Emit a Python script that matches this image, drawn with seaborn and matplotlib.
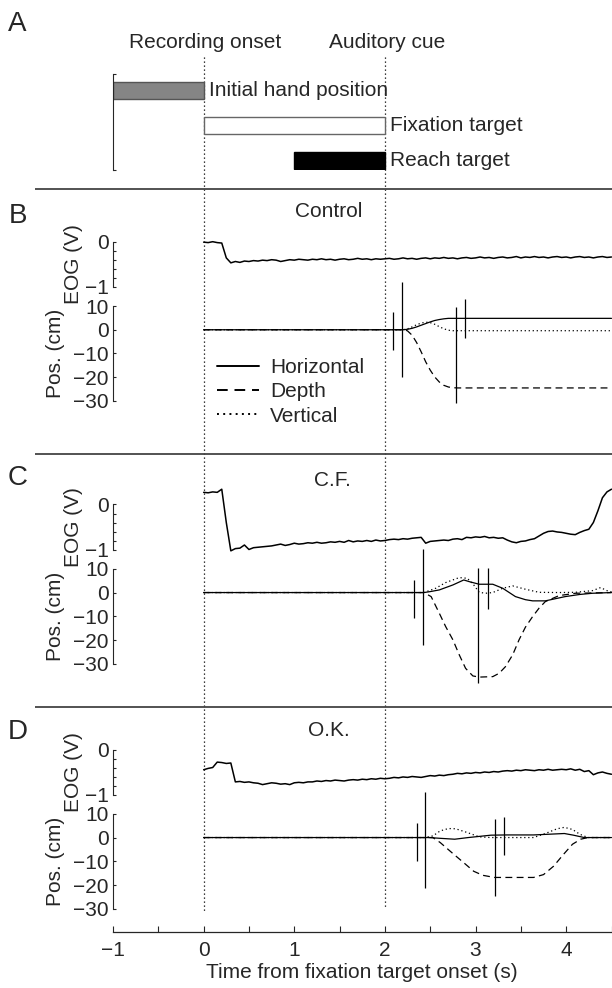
import numpy as np
import pandas as pd
import matplotlib
matplotlib.use("Agg")
import matplotlib.pyplot as plt
import seaborn as sns

# ------------------------------------------------------------------ data
# Panel A: trial events (time in s from fixation target onset)
event_names = ["Initial hand position", "Fixation target", "Reach target"]
event_start = [-1.0, 0.0, 1.0]
event_end = [0.0, 2.0, 2.0]
cue_times = [0.0, 2.0]
cue_names = ["Recording onset", "Auditory cue"]

panel_letters = ["B", "C", "D"]
panel_titles = ["Control", "C.F.", "O.K."]
components = ["Horizontal", "Depth", "Vertical"]

x_ticks = [-1, 0, 1, 2, 3, 4]
x_minor = [-0.5, 0.5, 1.5, 2.5, 3.5, 4.5]
eog_ticks = [-1, 0]
eog_minor = [-0.8, -0.6, -0.4, -0.2]
pos_ticks = [-30, -20, -10, 0, 10]

# EOG traces (V), sampled every 50 ms
eog_t = [0.00, 0.05, 0.10, 0.15, 0.20, 0.25, 0.30, 0.35, 0.40, 0.45,
         0.50, 0.55, 0.60, 0.65, 0.70, 0.75, 0.80, 0.85, 0.90, 0.95,
         1.00, 1.05, 1.10, 1.15, 1.20, 1.25, 1.30, 1.35, 1.40, 1.45,
         1.50, 1.55, 1.60, 1.65, 1.70, 1.75, 1.80, 1.85, 1.90, 1.95,
         2.00, 2.05, 2.10, 2.15, 2.20, 2.25, 2.30, 2.35, 2.40, 2.45,
         2.50, 2.55, 2.60, 2.65, 2.70, 2.75, 2.80, 2.85, 2.90, 2.95,
         3.00, 3.05, 3.10, 3.15, 3.20, 3.25, 3.30, 3.35, 3.40, 3.45,
         3.50, 3.55, 3.60, 3.65, 3.70, 3.75, 3.80, 3.85, 3.90, 3.95,
         4.00, 4.05, 4.10, 4.15, 4.20, 4.25, 4.30, 4.35, 4.40, 4.45,
         4.50]
eog_b = [-0.01, -0.02, 0.00, -0.02, -0.03, -0.36, -0.47, -0.44, -0.46, -0.43,
         -0.44, -0.42, -0.43, -0.41, -0.42, -0.40, -0.41, -0.44, -0.42, -0.40,
         -0.41, -0.39, -0.40, -0.41, -0.39, -0.40, -0.38, -0.40, -0.39, -0.41,
         -0.39, -0.38, -0.40, -0.39, -0.37, -0.39, -0.38, -0.40, -0.38, -0.39,
         -0.38, -0.37, -0.39, -0.38, -0.36, -0.38, -0.37, -0.39, -0.37, -0.36,
         -0.38, -0.36, -0.37, -0.35, -0.37, -0.36, -0.38, -0.36, -0.35, -0.37,
         -0.36, -0.34, -0.36, -0.35, -0.37, -0.35, -0.34, -0.36, -0.35, -0.33,
         -0.36, -0.34, -0.35, -0.33, -0.35, -0.34, -0.36, -0.34, -0.33, -0.35,
         -0.34, -0.36, -0.34, -0.33, -0.35, -0.34, -0.36, -0.34, -0.33, -0.35,
         -0.34]
eog_c = [0.27, 0.26, 0.28, 0.27, 0.34, -0.40, -1.03, -0.98, -0.97, -0.90,
         -1.00, -0.96, -0.95, -0.94, -0.93, -0.92, -0.90, -0.88, -0.91, -0.89,
         -0.86, -0.88, -0.87, -0.85, -0.86, -0.84, -0.86, -0.85, -0.83, -0.84,
         -0.82, -0.84, -0.80, -0.83, -0.81, -0.82, -0.80, -0.82, -0.79, -0.81,
         -0.80, -0.78, -0.77, -0.78, -0.76, -0.77, -0.75, -0.74, -0.73, -0.86,
         -0.82, -0.81, -0.80, -0.79, -0.80, -0.77, -0.76, -0.78, -0.73, -0.74,
         -0.72, -0.73, -0.71, -0.74, -0.73, -0.75, -0.74, -0.79, -0.83, -0.85,
         -0.82, -0.81, -0.78, -0.76, -0.70, -0.64, -0.60, -0.59, -0.61, -0.62,
         -0.64, -0.66, -0.67, -0.62, -0.58, -0.55, -0.40, -0.14, 0.15, 0.28,
         0.34]
eog_d = [-0.45, -0.42, -0.40, -0.28, -0.29, -0.31, -0.30, -0.72, -0.71, -0.73,
         -0.72, -0.74, -0.75, -0.78, -0.76, -0.74, -0.75, -0.77, -0.76, -0.78,
         -0.74, -0.73, -0.74, -0.72, -0.72, -0.70, -0.71, -0.69, -0.70, -0.68,
         -0.69, -0.70, -0.68, -0.67, -0.68, -0.66, -0.67, -0.65, -0.66, -0.64,
         -0.65, -0.64, -0.62, -0.63, -0.61, -0.62, -0.60, -0.61, -0.62, -0.60,
         -0.58, -0.59, -0.57, -0.58, -0.56, -0.55, -0.53, -0.54, -0.52, -0.53,
         -0.51, -0.52, -0.50, -0.51, -0.49, -0.50, -0.48, -0.47, -0.48, -0.46,
         -0.47, -0.45, -0.46, -0.47, -0.45, -0.46, -0.44, -0.46, -0.45, -0.44,
         -0.45, -0.43, -0.46, -0.44, -0.49, -0.47, -0.56, -0.52, -0.50, -0.53,
         -0.55]

# Hand position (cm) -- Control
hor_b_t = [0.0, 2.20, 2.25, 2.30, 2.35, 2.40, 2.45, 2.50, 2.55, 2.60, 2.65, 2.70, 2.75, 4.50]
hor_b = [0.0, 0.0, 0.2, 0.6, 1.2, 1.9, 2.6, 3.3, 3.9, 4.3, 4.6, 4.8, 4.8, 4.8]
dep_b_t = [0.0, 2.22, 2.25, 2.30, 2.35, 2.40, 2.45, 2.50, 2.55, 2.60, 2.65, 2.70, 2.75, 2.80, 4.50]
dep_b = [0.0, 0.0, -0.5, -2.3, -5.4, -9.3, -13.5, -17.0, -19.9, -22.0, -23.4, -24.1, -24.4, -24.5, -24.5]
ver_b_t = [0.0, 2.20, 2.25, 2.30, 2.35, 2.40, 2.45, 2.50, 2.55, 2.60, 2.65, 2.70, 2.75, 4.50]
ver_b = [0.0, 0.0, 0.4, 1.2, 2.1, 2.8, 3.2, 3.0, 2.3, 1.3, 0.4, -0.2, -0.4, -0.4]
mark_b_t = [2.085, 2.19, 2.78, 2.885]
mark_b_top = [7.4, 20.0, 9.4, 12.8]
mark_b_bot = [-8.4, -19.7, -30.7, -3.4]

# Hand position (cm) -- C.F.
hor_c_t = [0.0, 2.43, 2.50, 2.60, 2.75, 2.87, 2.93, 3.04, 3.19, 3.30, 3.44, 3.55, 3.63, 3.77, 3.99, 4.15, 4.29, 4.50]
hor_c = [0.0, 0.0, 0.4, 1.1, 3.2, 5.3, 4.6, 3.5, 3.5, 1.8, -1.7, -3.0, -3.5, -3.5, -1.7, -0.8, -0.3, 0.0]
dep_c_t = [0.0, 2.43, 2.51, 2.60, 2.67, 2.75, 2.82, 2.89, 2.97, 3.04, 3.19, 3.26, 3.33, 3.41, 3.48,
           3.55, 3.63, 3.70, 3.77, 3.92, 4.10, 4.50]
dep_c = [0.0, 0.0, -1.7, -8.7, -14.3, -19.9, -26.2, -31.9, -35.1, -35.6, -35.4, -34.0, -31.2, -26.2, -19.9,
         -14.6, -10.1, -6.6, -3.8, -1.3, -0.3, 0.0]
ver_c_t = [0.0, 2.43, 2.56, 2.67, 2.82, 2.91, 2.98, 3.04, 3.11, 3.19, 3.30, 3.41, 3.55, 3.70, 3.92,
           4.10, 4.29, 4.38, 4.45, 4.50]
ver_c = [0.0, 0.0, 1.8, 4.2, 6.3, 6.0, 3.2, 0.1, -0.3, 0.0, 1.8, 2.8, 1.4, 0.1, 0.0,
         0.1, 0.8, 2.1, 0.8, 0.3]
mark_c_t = [2.32, 2.42, 3.03, 3.135]
mark_c_top = [5.3, 18.3, 10.3, 10.3]
mark_c_bot = [-10.8, -22.0, -38.2, -7.0]

# Hand position (cm) -- O.K.
hor_d_t = [0.0, 2.49, 2.60, 2.77, 2.92, 3.17, 3.34, 3.64, 3.81, 3.98, 4.08, 4.20, 4.50]
hor_d = [0.0, 0.0, -0.3, -0.7, 0.0, 1.0, 1.1, 1.1, 1.4, 1.7, 1.0, 0.0, 0.0]
dep_d_t = [0.0, 2.53, 2.61, 2.74, 2.87, 2.98, 3.08, 3.21, 3.64, 3.75, 3.86, 3.97, 4.07, 4.16, 4.24, 4.50]
dep_d = [0.0, 0.0, -2.1, -6.4, -10.6, -14.2, -15.9, -16.8, -16.8, -15.6, -12.1, -7.1, -2.8, -0.7, 0.0, 0.0]
ver_d_t = [0.0, 2.44, 2.53, 2.61, 2.70, 2.78, 2.91, 3.04, 3.17, 3.64, 3.77, 3.90, 3.98, 4.07, 4.15, 4.24, 4.50]
ver_d = [0.0, 0.0, 0.7, 2.8, 3.8, 3.7, 2.1, 0.3, 0.0, 0.0, 1.7, 3.7, 4.3, 3.4, 1.4, 0.0, 0.0]
mark_d_t = [2.35, 2.44, 3.21, 3.31]
mark_d_top = [6.0, 19.2, 7.8, 8.8]
mark_d_bot = [-10.0, -21.3, -24.5, -7.4]

# ------------------------------------------------------------------ style
sns.set_theme(style="ticks")
plt.rcParams["font.family"] = ["Liberation Sans", "DejaVu Sans"]
plt.rcParams["axes.unicode_minus"] = True
FS = 15
LETTER_FS = 20

W, H = 612, 988
X0, X1 = 113.0, 611.5
XMIN, XMAX = -1.0, 4.5
EOG_H = 45.0
POS_TOP, POS_BOT = 64.3, 159.3
eog_zero_px = [241.7, 504.5, 749.5]
letter_y = [216, 478, 732]
title_y = [211, 480, 730]
title_x = [1.38, 1.42, 1.38]
sep_y = [189, 454, 706.5]
dotted_end = [911, 907]

dash_map = {"Horizontal": "", "Depth": (5.5, 3.5), "Vertical": (1, 2.2)}
bar_face = ["#858585", "white", "black"]
bar_edge = ["#555555", "#666666", "black"]

fig = plt.figure(figsize=(W / 100, H / 100), dpi=100)


def px_axes(y_top, y_bot, x0=X0, x1=X1):
    ax = fig.add_axes([x0 / W, 1 - y_bot / H, (x1 - x0) / W, (y_bot - y_top) / H])
    ax.patch.set_visible(False)
    return ax


# overlay: x in seconds, y in pixels from top
ax_o = fig.add_axes([0, 0, 1, 1])
ax_o.set_xlim(XMIN - X0 * (XMAX - XMIN) / (X1 - X0), XMIN + (W - X0) * (XMAX - XMIN) / (X1 - X0))
ax_o.set_ylim(H, 0)
ax_o.set_axis_off()
px2t = lambda px: XMIN + (px - X0) * (XMAX - XMIN) / (X1 - X0)
for ct, name, yend in zip(cue_times, cue_names, dotted_end):
    ax_o.plot([ct, ct], [57, yend], color="black", lw=0.9, ls=(0, (1, 2.2)))
    ax_o.text(ct + 0.02, 43, name, ha="center", va="center", fontsize=FS)
for sy in sep_y:
    ax_o.plot([px2t(35), px2t(W)], [sy, sy], color="#444444", lw=1.3, solid_capstyle="butt")

fig.text(17 / W, 1 - 24 / H, "A", ha="center", va="center", fontsize=LETTER_FS)

# ---------------- panel A: event bars
ax_a = px_axes(74, 170)
rows = np.arange(len(event_names))
ax_a.barh(rows, np.array(event_end) - np.array(event_start), left=event_start, height=0.5,
          color=bar_face, edgecolor=bar_edge, linewidth=1.0)
for r, name, e in zip(rows, event_names, event_end):
    ax_a.annotate(name, xy=(e, r), xytext=(4.0, 0), textcoords="offset points",
                  ha="left", va="center", fontsize=FS)
ax_a.set_xlim(XMIN, XMAX)
ax_a.set_ylim(2.271, -0.466)
for s in ["top", "right", "bottom"]:
    ax_a.spines[s].set_visible(False)
ax_a.spines["left"].set_linewidth(0.8)
ax_a.set_xticks([])
ax_a.set_yticks([-0.466, 2.271])
ax_a.set_yticklabels([])
ax_a.tick_params(axis="y", direction="in", length=2.5, width=0.8)

# ---------------- panels B-D
panels = [
    (eog_b, (hor_b_t, hor_b), (dep_b_t, dep_b), (ver_b_t, ver_b), (mark_b_t, mark_b_top, mark_b_bot)),
    (eog_c, (hor_c_t, hor_c), (dep_c_t, dep_c), (ver_c_t, ver_c), (mark_c_t, mark_c_top, mark_c_bot)),
    (eog_d, (hor_d_t, hor_d), (dep_d_t, dep_d), (ver_d_t, ver_d), (mark_d_t, mark_d_top, mark_d_bot)),
]


def style_yaxis(ax):
    for s in ["top", "right", "bottom"]:
        ax.spines[s].set_visible(False)
    ax.spines["left"].set_linewidth(0.8)
    ax.set_xticks([])
    ax.tick_params(axis="y", which="both", direction="in", length=2.2, width=0.8,
                   pad=3, labelsize=FS)


for i, (eog, hor, dep, ver, marks) in enumerate(panels):
    z = eog_zero_px[i]
    # EOG
    ax_e = px_axes(z, z + EOG_H)
    sns.lineplot(x=eog_t, y=eog, color="black", linewidth=1.1, estimator=None, ax=ax_e)
    ax_e.set_xlim(XMIN, XMAX)
    ax_e.set_ylim(-1, 0)
    ax_e.set_yticks(eog_ticks)
    ax_e.set_yticks(eog_minor, minor=True)
    style_yaxis(ax_e)
    ax_e.set_xlabel("")
    ax_e.set_ylabel("EOG (V)", fontsize=FS)
    ax_e.yaxis.set_label_coords((83 - X0) / (X1 - X0), 0.5)
    for ln in ax_e.get_lines():
        ln.set_clip_on(False)

    # Hand position
    ax_p = px_axes(z + POS_TOP, z + POS_BOT)
    frames = []
    for name, (tt, vv) in zip(components, [hor, dep, ver]):
        frames.append(pd.DataFrame({"t": tt, "v": vv, "Component": name}))
    df = pd.concat(frames, ignore_index=True)
    sns.lineplot(data=df, x="t", y="v", style="Component", style_order=components,
                 dashes=dash_map, color="black", linewidth=0.9, estimator=None,
                 ax=ax_p, legend=(i == 0))
    mt, mtop, mbot = marks
    ax_p.vlines(mt, mbot, mtop, color="black", linewidth=0.9, clip_on=False)
    ax_p.set_xlim(XMIN, XMAX)
    ax_p.set_ylim(-30, 10)
    ax_p.set_yticks(pos_ticks)
    style_yaxis(ax_p)
    ax_p.set_xlabel("")
    ax_p.set_ylabel("Pos. (cm)", fontsize=FS)
    ax_p.yaxis.set_label_coords((65 - X0) / (X1 - X0), 0.5)
    for ln in ax_p.get_lines():
        ln.set_clip_on(False)
    if i == 0:
        sns.move_legend(ax_p, "upper left", bbox_to_anchor=((217 - X0) / (X1 - X0), 0.45),
                        frameon=False, title=None, fontsize=FS, handlelength=2.0,
                        handletextpad=0.55, labelspacing=0.25, borderpad=0, borderaxespad=0)
        for h in ax_p.get_legend().get_lines():
            h.set_linewidth(1.4)

    fig.text(18 / W, 1 - letter_y[i] / H, panel_letters[i], ha="center", va="center",
             fontsize=LETTER_FS)
    ax_o.text(title_x[i], title_y[i], panel_titles[i], ha="center", va="center", fontsize=FS)

# ---------------- shared time axis
ax_x = px_axes(931.3, 932.3)
ax_x.set_xlim(XMIN, XMAX)
for s in ["top", "left", "right"]:
    ax_x.spines[s].set_visible(False)
ax_x.spines["bottom"].set_linewidth(0.9)
ax_x.set_yticks([])
ax_x.set_xticks(x_ticks)
ax_x.set_xticks(x_minor, minor=True)
ax_x.tick_params(axis="x", which="both", direction="in", length=4.3, width=0.8, pad=6.5,
                 labelsize=FS)
ax_x.set_xlabel("Time from fixation target onset (s)", fontsize=FS, labelpad=2)

fig.savefig("out.png", dpi=100)
